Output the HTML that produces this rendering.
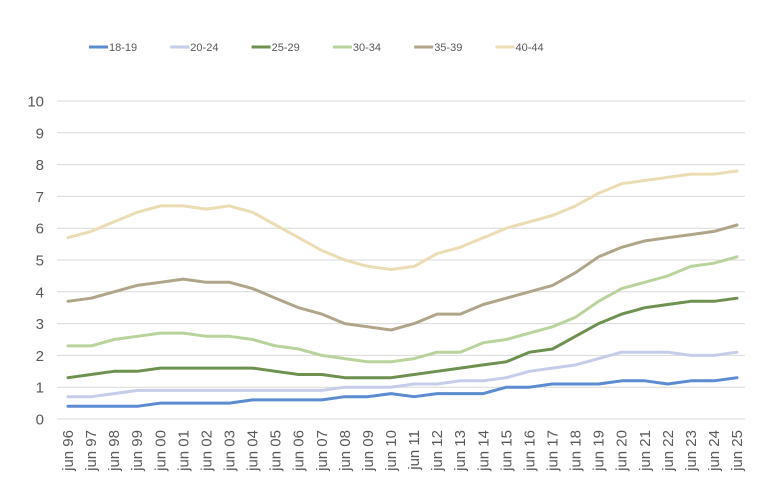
<!DOCTYPE html>
<html><head><meta charset="utf-8"><style>
body{margin:0;background:#fff;}
svg{display:block;font-family:"Liberation Sans",Arial,sans-serif;}
</style></head><body>
<svg id="c" width="768" height="501" viewBox="0 0 768 501" xmlns="http://www.w3.org/2000/svg"></svg>
<script>
const s=document.getElementById('c');const NS="http://www.w3.org/2000/svg";
function el(t,a,txt){const e=document.createElementNS(NS,t);for(const k in a)e.setAttribute(k,a[k]);if(txt!==undefined)e.textContent=txt;s.appendChild(e);return e;}
const x0=68,dx=23.07,y0=419,dy=31.8;
for(let i=0;i<=10;i++){const y=y0-i*dy;el('line',{x1:57,x2:745,y1:y,y2:y,stroke:'#d9d9d9','stroke-width':1});
el('text',{x:44,y:y+5.5,'text-anchor':'end','font-size':15,fill:'#595959'},String(i));}
const yrs=[];for(let i=0;i<30;i++){yrs.push(String((96+i)%100).padStart(2,'0'));}
yrs.forEach((v,i)=>{const x=x0+i*dx+5;el('text',{x:x,y:430,'text-anchor':'end','font-size':15,fill:'#595959',transform:`rotate(-90 ${x} 430)`},'jun '+v);});
const series=[
['18-19','#5b8bd0',[0.4,0.4,0.4,0.4,0.5,0.5,0.5,0.5,0.6,0.6,0.6,0.6,0.7,0.7,0.8,0.7,0.8,0.8,0.8,1.0,1.0,1.1,1.1,1.1,1.2,1.2,1.1,1.2,1.2,1.3]],
['20-24','#c5cdea',[0.7,0.7,0.8,0.9,0.9,0.9,0.9,0.9,0.9,0.9,0.9,0.9,1.0,1.0,1.0,1.1,1.1,1.2,1.2,1.3,1.5,1.6,1.7,1.9,2.1,2.1,2.1,2.0,2.0,2.1]],
['25-29','#6e9150',[1.3,1.4,1.5,1.5,1.6,1.6,1.6,1.6,1.6,1.5,1.4,1.4,1.3,1.3,1.3,1.4,1.5,1.6,1.7,1.8,2.1,2.2,2.6,3.0,3.3,3.5,3.6,3.7,3.7,3.8]],
['30-34','#b8d39c',[2.3,2.3,2.5,2.6,2.7,2.7,2.6,2.6,2.5,2.3,2.2,2.0,1.9,1.8,1.8,1.9,2.1,2.1,2.4,2.5,2.7,2.9,3.2,3.7,4.1,4.3,4.5,4.8,4.9,5.1]],
['35-39','#b0a58a',[3.7,3.8,4.0,4.2,4.3,4.4,4.3,4.3,4.1,3.8,3.5,3.3,3.0,2.9,2.8,3.0,3.3,3.3,3.6,3.8,4.0,4.2,4.6,5.1,5.4,5.6,5.7,5.8,5.9,6.1]],
['40-44','#ecdcb3',[5.7,5.9,6.2,6.5,6.7,6.7,6.6,6.7,6.5,6.1,5.7,5.3,5.0,4.8,4.7,4.8,5.2,5.4,5.7,6.0,6.2,6.4,6.7,7.1,7.4,7.5,7.6,7.7,7.7,7.8]]];
series.slice().reverse().forEach(([n,c,d])=>{el('polyline',{points:d.map((v,i)=>(x0+i*dx).toFixed(1)+','+(y0-v*dy).toFixed(1)).join(' '),fill:'none',stroke:c,'stroke-width':3,'stroke-linejoin':'round','stroke-linecap':'round'});});
series.forEach(([n,c],i)=>{const lx=89+i*81.3;el('line',{x1:lx,x2:lx+19,y1:47,y2:47,stroke:c,'stroke-width':3});
el('text',{x:lx+20,y:51,'font-size':11,fill:'#595959'},n);});
</script>
</body></html>
